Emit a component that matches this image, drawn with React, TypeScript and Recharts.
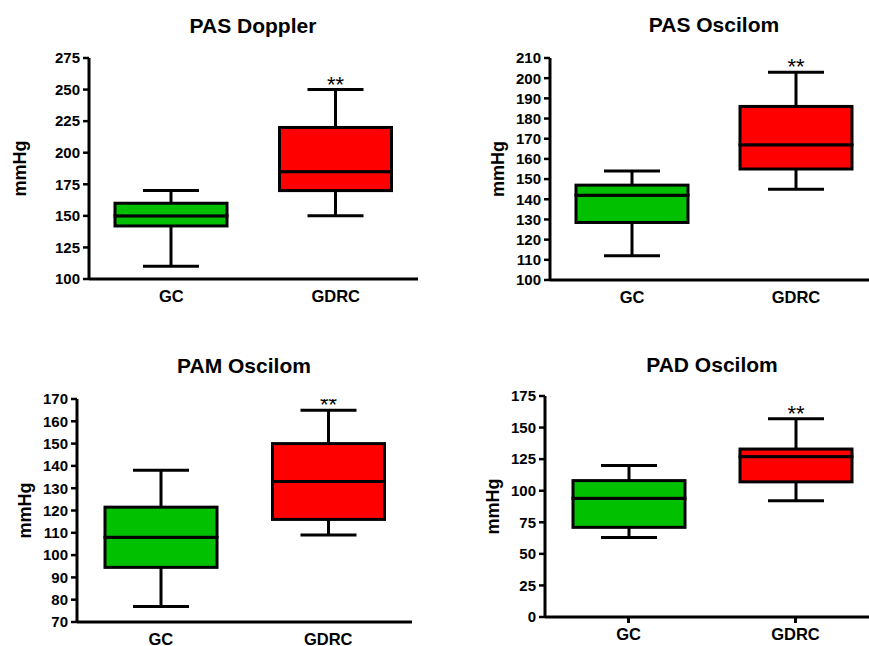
import { ComposedChart, Bar, XAxis, YAxis } from 'recharts';

const categories = ['GC', 'GDRC'];
const boxColors = ['#00C000', '#FF0000'];
const sigMarks = ['', '**'];

// per group: [min, q1, median, q3, max]
const pasDopplerStats = [
  [110, 142, 150, 160, 170],
  [150, 170, 185, 220, 250],
];
const pasOscilomStats = [
  [112, 128.5, 142, 147, 154],
  [145, 155, 167, 186, 203],
];
const pamOscilomStats = [
  [77, 94.5, 108, 121.5, 138],
  [109, 116, 133, 150, 165],
];
const padOscilomStats = [
  [63, 71, 94, 108, 120],
  [92, 107, 127, 133, 157],
];

const pasDopplerTicks = [100, 125, 150, 175, 200, 225, 250, 275];
const pasOscilomTicks = [100, 110, 120, 130, 140, 150, 160, 170, 180, 190, 200, 210];
const pamOscilomTicks = [70, 80, 90, 100, 110, 120, 130, 140, 150, 160, 170];
const padOscilomTicks = [0, 25, 50, 75, 100, 125, 150, 175];

const FONT = '"Liberation Sans", Arial, sans-serif';

function toRows(stats: number[][]) {
  return categories.map((name, i) => {
    const [mn, q1, med, q3, mx] = stats[i];
    return {
      name,
      base: mn,
      wLow: q1 - mn,
      bLow: med - q1,
      bHigh: q3 - med,
      wHigh: mx - q3,
      color: boxColors[i],
      sig: sigMarks[i],
    };
  });
}

function span(p: any) {
  const top = Math.min(p.y, p.y + p.height);
  const bottom = Math.max(p.y, p.y + p.height);
  return { top, bottom, cx: p.x + p.width / 2 };
}

const Empty = () => <g />;

function LowWhisker(p: any) {
  const { top, bottom, cx } = span(p);
  const half = p.width / 4;
  return (
    <g stroke="#000" strokeWidth={3}>
      <line x1={cx} x2={cx} y1={top} y2={bottom} />
      <line x1={cx - half} x2={cx + half} y1={bottom} y2={bottom} />
    </g>
  );
}

function HighWhisker(p: any) {
  const { top, bottom, cx } = span(p);
  const half = p.width / 4;
  return (
    <g>
      <g stroke="#000" strokeWidth={3}>
        <line x1={cx} x2={cx} y1={top} y2={bottom} />
        <line x1={cx - half} x2={cx + half} y1={top} y2={top} />
      </g>
      {p.payload.sig ? (
        <text x={cx} y={top + 2} textAnchor="middle" fontSize={22} fontFamily={FONT} fill="#000">
          {p.payload.sig}
        </text>
      ) : null}
    </g>
  );
}

function BoxPart(p: any) {
  const { top, bottom } = span(p);
  return (
    <rect x={p.x} y={top} width={p.width} height={bottom - top} fill={p.payload.color} stroke="#000" strokeWidth={3} />
  );
}

const yLabel = (dist: number) => (props: any) => {
  const vb = props.viewBox;
  const cx = vb.x + vb.width - dist;
  const cy = vb.y + vb.height / 2;
  return (
    <text
      x={cx}
      y={cy}
      transform={`rotate(-90 ${cx} ${cy})`}
      textAnchor="middle"
      dominantBaseline="central"
      fontSize={18}
      fontWeight="bold"
      fontFamily={FONT}
      fill="#000"
    >
      mmHg
    </text>
  );
};

interface PanelProps {
  stats: number[][];
  ticks: number[];
  left: number;
  top: number;
  width: number;
  height: number;
  margin: { top: number; right: number; bottom: number; left: number };
  labelDist: number;
  xTicks?: boolean;
}

function BoxPanel({ stats, ticks, left, top, width, height, margin, labelDist, xTicks }: PanelProps) {
  const data = toRows(stats);
  return (
    <div style={{ position: 'absolute', left, top }}>
      <ComposedChart width={width} height={height} data={data} margin={margin}>
        <XAxis
          dataKey="name"
          height={30}
          axisLine={{ stroke: '#000', strokeWidth: 3 }}
          tickLine={xTicks ? { stroke: '#000', strokeWidth: 3 } : false}
          tickSize={6}
          tickMargin={5}
          tick={{ fontSize: 16.5, fontWeight: 'bold', fill: '#000', fontFamily: FONT }}
        />
        <YAxis
          width={60}
          domain={[ticks[0], ticks[ticks.length - 1]]}
          ticks={ticks}
          interval={0}
          allowDataOverflow
          axisLine={{ stroke: '#000', strokeWidth: 3 }}
          tickLine={{ stroke: '#000', strokeWidth: 2.5 }}
          tickSize={6}
          tickMargin={3}
          tick={{ fontSize: 15, fontWeight: 'bold', fill: '#000', fontFamily: FONT }}
          label={{ value: 'mmHg', content: yLabel(labelDist) }}
        />
        <Bar dataKey="base" stackId="b" barSize={112} shape={Empty} isAnimationActive={false} />
        <Bar dataKey="wLow" stackId="b" barSize={112} shape={LowWhisker} isAnimationActive={false} />
        <Bar dataKey="bLow" stackId="b" barSize={112} shape={BoxPart} isAnimationActive={false} />
        <Bar dataKey="bHigh" stackId="b" barSize={112} shape={BoxPart} isAnimationActive={false} />
        <Bar dataKey="wHigh" stackId="b" barSize={112} shape={HighWhisker} isAnimationActive={false} />
      </ComposedChart>
    </div>
  );
}

const titles = [
  { text: 'PAS Doppler', x: 253, y: 33 },
  { text: 'PAS Oscilom', x: 714, y: 32 },
  { text: 'PAM Oscilom', x: 244, y: 373 },
  { text: 'PAD Oscilom', x: 712, y: 372 },
];

export default function App() {
  return (
    <div style={{ position: 'absolute', left: 0, top: 0, width: 869, height: 646, overflow: 'hidden', background: '#fff' }}>
      <BoxPanel
        stats={pasDopplerStats}
        ticks={pasDopplerTicks}
        left={0}
        top={0}
        width={440}
        height={320}
        margin={{ top: 58, right: 22, bottom: 11, left: 29 }}
        labelDist={69}
      />
      <BoxPanel
        stats={pasOscilomStats}
        ticks={pasOscilomTicks}
        left={430}
        top={0}
        width={460}
        height={320}
        margin={{ top: 58, right: 12, bottom: 10, left: 60 }}
        labelDist={52}
      />
      <BoxPanel
        stats={pamOscilomStats}
        ticks={pamOscilomTicks}
        left={0}
        top={330}
        width={440}
        height={330}
        margin={{ top: 69, right: 28, bottom: 8, left: 17 }}
        labelDist={52}
      />
      <BoxPanel
        stats={padOscilomStats}
        ticks={padOscilomTicks}
        left={430}
        top={330}
        width={460}
        height={330}
        margin={{ top: 66, right: 11, bottom: 13, left: 55 }}
        labelDist={52}
        xTicks
      />
      <svg width={869} height={646} style={{ position: 'absolute', left: 0, top: 0, pointerEvents: 'none' }}>
        {titles.map((t) => (
          <text key={t.text} x={t.x} y={t.y} textAnchor="middle" fontSize={21} fontWeight="bold" fontFamily={FONT} fill="#000">
            {t.text}
          </text>
        ))}
      </svg>
    </div>
  );
}
